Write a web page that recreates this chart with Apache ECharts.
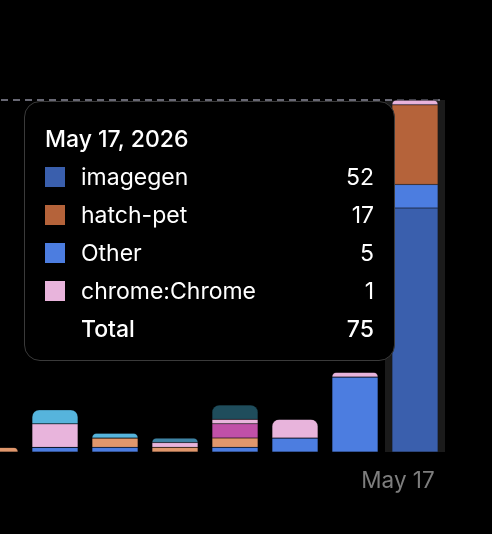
<!DOCTYPE html>
<html>
<head>
<meta charset="utf-8">
<script src="https://cdn.jsdelivr.net/npm/echarts@6/dist/echarts.min.js"></script>
<style>
html,body{margin:0;padding:0;background:#000;}
#c{width:492px;height:534px;}
</style>
</head>
<body>
<div id="c"></div>
<script>
// ---- data ----
var year = 2026;
var categories = ['May 10','May 11','May 12','May 13','May 14','May 15','May 16','May 17'];
var seriesNames = ['imagegen','Other','hatch-pet','figma','github','chrome:Chrome','slack','notion','linear'];
var imagegen    = [0,0,0,0,0,0,0,52];
var other       = [0,1,1,0,1,3,16,5];
var hatchPet    = [0,0,0,0,0,0,0,17];
var figma       = [1,0,2,1,2,0,0,0];
var github      = [0,0,0,0,3,0,0,0];
var chrome      = [0,5,0,1,1,4,1,1];
var slack       = [0,0,0,1,0,0,0,0];
var notion      = [0,3,1,0,0,0,0,0];
var linear      = [0,0,0,0,3,0,0,0];
var seriesValues = [imagegen, other, hatchPet, figma, github, chrome, slack, notion, linear];
var seriesColors = ['#3a5fad','#4c7de0','#b5633a','#e0976c','#c050a8','#e8b4dc','#3f83a3','#56b4dc','#1f4d5c'];
var highlightIndex = 7;

var FONT = 'Inter, "Noto Sans", sans-serif';

// top-most non-zero series per category (gets rounded top)
var topIdx = categories.map(function(_, i){
  var t = -1;
  seriesValues.forEach(function(vals, s){ if (vals[i] > 0) t = s; });
  return t;
});

var series = seriesValues.map(function(vals, s){
  return {
    name: seriesNames[s],
    type: 'bar',
    stack: 'total',
    barWidth: 46,
    z: 5,
    itemStyle: { color: seriesColors[s], borderColor: 'rgba(0,0,0,0.25)', borderWidth: 0.5 },
    emphasis: { disabled: true },
    data: vals.map(function(v, i){
      if (topIdx[i] === s) return { value: v, itemStyle: { borderRadius: [7,7,0,0] } };
      return v;
    })
  };
});
series[series.length - 1].markLine = {
  silent: true,
  symbol: 'none',
  label: { show: false },
  lineStyle: { color: '#8a8a9a', type: [7,5], width: 1.5 },
  data: [{ yAxis: 75 }]
};

var chart = echarts.init(document.getElementById('c'));
chart.setOption({
  backgroundColor: '#000',
  animation: false,
  grid: { left: -35, right: 47, top: 100, bottom: 82, outerBoundsMode: 'none', containLabel: false },
  xAxis: {
    type: 'category',
    data: categories,
    axisLine: { show: false },
    axisTick: { show: false },
    axisLabel: {
      color: '#7d7d7d',
      fontFamily: FONT,
      fontSize: 22.5,
      margin: 18,
      padding: [0, 34, 0, 0],
      interval: 0,
      formatter: function(v, i){ return i === highlightIndex ? v : ''; }
    }
  },
  yAxis: { type: 'value', min: 0, max: 75, show: false, splitLine: { show: false } },
  tooltip: {
    trigger: 'axis',
    triggerOn: 'none',
    alwaysShowContent: true,
    transitionDuration: 0,
    axisPointer: { type: 'shadow', z: 0, shadowStyle: { color: '#1b1b1b', opacity: 1 } },
    position: [24, 101],
    padding: 0,
    backgroundColor: '#000',
    borderColor: '#3a3a3a',
    borderWidth: 1.5,
    extraCssText: 'box-shadow:none;border-radius:16px;',
    formatter: function(params){
      var idx = params[0].dataIndex;
      var rows = params.filter(function(p){ return p.value > 0; })
        .sort(function(a,b){ return b.value - a.value; });
      var total = rows.reduce(function(s,p){ return s + p.value; }, 0);
      var h = '<div style="box-sizing:border-box;width:369px;padding:24px 20px 12px 20px;font-family:' + FONT.replace(/"/g,"'") + ';color:#fff;">';
      h += '<div style="font-size:23px;font-weight:500;line-height:26px;margin-bottom:6px;">' + categories[idx] + ', ' + year + '</div>';
      rows.forEach(function(p){
        h += '<div style="display:flex;align-items:center;height:38px;font-size:23px;">' +
          '<span style="display:inline-block;width:20px;height:20px;background:' + p.color + ';margin-right:16px;"></span>' +
          '<span style="flex:1;">' + p.seriesName + '</span>' +
          '<span>' + p.value + '</span></div>';
      });
      h += '<div style="display:flex;align-items:center;height:38px;font-size:23px;font-weight:500;">' +
        '<span style="display:inline-block;width:20px;height:20px;margin-right:16px;"></span>' +
        '<span style="flex:1;">Total</span><span>' + total + '</span></div>';
      h += '</div>';
      return h;
    }
  },
  series: series
});
chart.dispatchAction({ type: 'showTip', seriesIndex: 0, dataIndex: highlightIndex });
</script>
</body>
</html>
